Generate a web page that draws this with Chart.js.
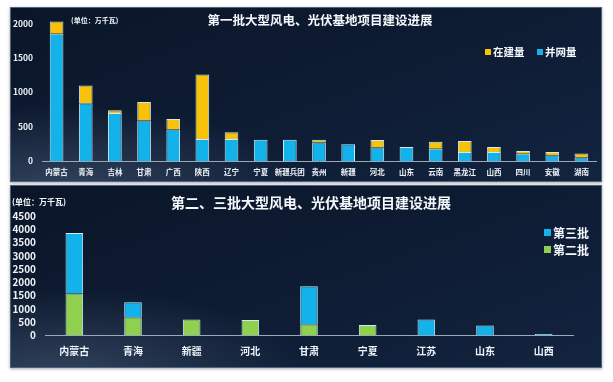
<!DOCTYPE html>
<html><head><meta charset="utf-8">
<script src="https://cdn.jsdelivr.net/npm/chart.js@4/dist/chart.umd.min.js"></script>
<style>
html,body{margin:0;padding:0;background:#fff;width:613px;height:382px;overflow:hidden;font-family:"Noto Sans CJK SC","Noto Sans",sans-serif;}
.panel{position:absolute;left:10px;width:592px;border:1px solid #4a6482;box-sizing:border-box;
 background:radial-gradient(ellipse 60% 70% at 8% 105%, rgba(120,140,170,0.35), rgba(120,140,170,0) 70%),linear-gradient(160deg,#0a1628 0%,#0e1c34 55%,#13243f 100%);
 box-shadow:0 1px 3px rgba(0,0,0,0.35);}
#p1{top:7px;height:175px;}
#p2{top:185px;height:183px;}
canvas{position:absolute;left:0;top:0;}
.t{position:absolute;color:#f4f7fb;font-weight:bold;white-space:nowrap;}
.lg{position:absolute;color:#f4f7fb;font-weight:bold;white-space:nowrap;display:flex;align-items:center;}
.sw{display:inline-block;margin-right:2px;}
</style></head>
<body>
<div class="panel" id="p1"><canvas id="c1" width="592" height="175"></canvas></div>
<div class="panel" id="p2"><canvas id="c2" width="592" height="183"></canvas></div>

<div class="t" style="left:120px;width:400px;text-align:center;top:11px;font-size:12.5px;line-height:18px;">第一批大型风电、光伏基地项目建设进展</div>
<div class="t" style="left:71px;top:15px;font-size:7px;line-height:10px;">(单位：万千瓦)</div>
<div class="lg" style="left:485px;top:45px;font-size:10.5px;line-height:13px;"><span class="sw" style="width:6px;height:6px;background:#f8c10a;"></span>在建量</div>
<div class="lg" style="left:537px;top:45px;font-size:10.5px;line-height:13px;"><span class="sw" style="width:6px;height:6px;background:#14b2ea;"></span>并网量</div>

<div class="t" style="left:111px;width:400px;text-align:center;top:193px;font-size:14px;line-height:19px;">第二、三批大型风电、光伏基地项目建设进展</div>
<div class="t" style="left:12px;top:196px;font-size:8px;line-height:11px;">(单位：万千瓦)</div>
<div class="lg" style="left:544px;top:225px;font-size:12px;line-height:15px;"><span class="sw" style="width:7px;height:7px;background:#14b2ea;"></span>第三批</div>
<div class="lg" style="left:544px;top:242px;font-size:12px;line-height:15px;"><span class="sw" style="width:7px;height:7px;background:#8fd14f;"></span>第二批</div>

<script>
// ---- Data: first batch ----
const batch1Regions = ["内蒙古","青海","吉林","甘肃","广西","陕西","辽宁","宁夏","新疆兵团","贵州","新疆","河北","山东","云南","黑龙江","山西","四川","安徽","湖南"];
const batch1Grid = [1850,840,700,590,460,320,320,310,310,270,245,195,205,180,130,130,105,80,50];
const batch1Building = [180,260,40,270,150,940,100,null,null,40,null,110,null,100,160,75,40,50,60];
const batch1Ticks = [0,500,1000,1500,2000];

// ---- Data: second & third batches ----
const batch23Regions = ["内蒙古","青海","新疆","河北","甘肃","宁夏","江苏","山东","山西"];
const batch2Values = [1580,690,600,580,420,400,null,null,null];
const batch3Values = [2280,560,null,null,1430,null,600,380,60];
const batch23Ticks = [0,500,1000,1500,2000,2500,3000,3500,4000,4500];

const FONT = '"Noto Sans CJK SC","Noto Sans",sans-serif';
const BLUE = '#14b2ea', YELLOW = '#f8c10a', GREEN = '#8fd14f', EDGE = '#cdebf5';

function baseOpts(o){
  return {
    responsive:false, animation:false,
    layout:{padding:o.pad},
    plugins:{legend:{display:false},tooltip:{enabled:false},title:{display:false}},
    scales:{
      x:{stacked:true,
         grid:{display:false,drawTicks:false},
         border:{display:true,color:'#9aa8b8',width:1},
         ticks:{color:'#eef3f8',font:{family:FONT,size:o.xFont,weight:'bold'},padding:o.xPad,maxRotation:0,autoSkip:false},
         afterFit:s=>{s.height=o.xH;}},
      y:{stacked:true,min:0,max:o.max,
         grid:{display:false,drawTicks:false},
         border:{display:false},
         afterBuildTicks:s=>{s.ticks=o.ticks.map(v=>({value:v}));},
         ticks:{color:'#eef3f8',font:{family:FONT,size:o.yFont,weight:'bold'},padding:o.yPad,autoSkip:false,callback:v=>String(v)},
         afterFit:s=>{s.width=o.yW;}}
    }
  };
}

new Chart(document.getElementById('c1'),{
  type:'bar',
  data:{labels:batch1Regions,datasets:[
    {label:'并网量',data:batch1Grid,backgroundColor:BLUE,borderColor:EDGE,borderWidth:1,barPercentage:0.47,categoryPercentage:1,clip:false},
    {label:'在建量',data:batch1Building,backgroundColor:YELLOW,borderColor:EDGE,borderWidth:1,barPercentage:0.47,categoryPercentage:1,clip:false}
  ]},
  options:baseOpts({pad:{top:15.5,right:7,left:0,bottom:0},max:2000,ticks:batch1Ticks,xFont:7.5,xPad:7,xH:22,yFont:8.5,yPad:9,yW:31})
});

new Chart(document.getElementById('c2'),{
  type:'bar',
  data:{labels:batch23Regions,datasets:[
    {label:'第二批',data:batch2Values,backgroundColor:GREEN,borderColor:EDGE,borderWidth:1,barPercentage:0.30,categoryPercentage:1},
    {label:'第三批',data:batch3Values,backgroundColor:BLUE,borderColor:EDGE,borderWidth:1,barPercentage:0.30,categoryPercentage:1}
  ]},
  options:baseOpts({pad:{top:30,right:30,left:0,bottom:0},max:4500,ticks:batch23Ticks,xFont:10,xPad:10,xH:33.5,yFont:10,yPad:9,yW:34})
});
</script>
</body></html>
